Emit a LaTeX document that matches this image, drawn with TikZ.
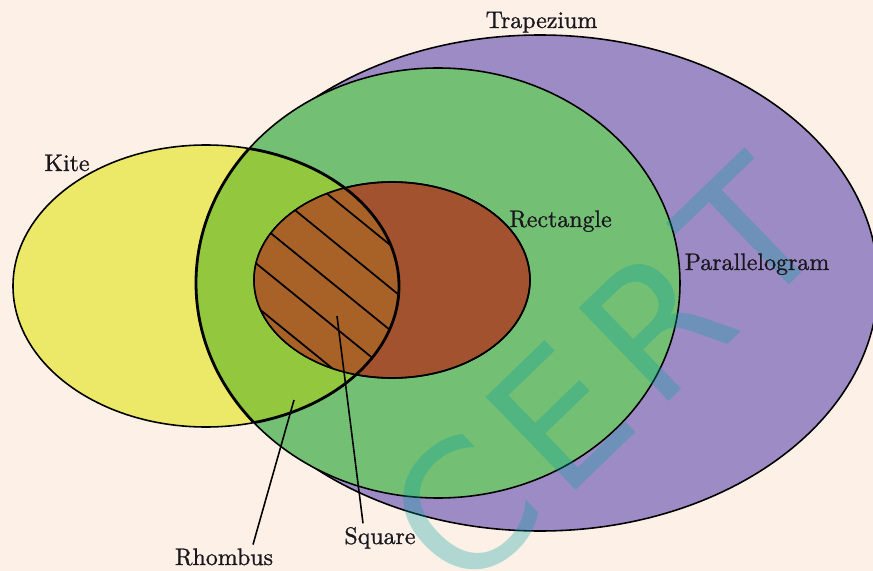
\documentclass[tikz,border=0pt]{standalone}
\usepackage{fontspec}
\usepackage{tikz}
\usetikzlibrary{positioning, calc}
\newfontfamily\wmfont{DejaVu Sans}
\newfontfamily\setfont{lmroman10-regular.otf}[FakeBold=1]
\definecolor{VennCream}{RGB}{253, 240, 231}
\definecolor{VennPurple}{RGB}{157, 139, 197}
\definecolor{VennGreen}{RGB}{115, 191, 116}
\definecolor{VennYellow}{RGB}{236, 232, 104}
\definecolor{VennLime}{RGB}{146, 199, 62}
\definecolor{VennBrown}{RGB}{163, 82, 48}
\definecolor{VennOchre}{RGB}{168, 98, 40}
\definecolor{VennMark}{RGB}{0, 160, 160}
\definecolor{VennInk}{RGB}{26, 24, 30}
% the five sets, in pixel units
\newcommand{\trapset}{(540,283) ellipse [x radius=338, y radius=248]}
\newcommand{\paraset}{(438,283) ellipse [x radius=242, y radius=215]}
\newcommand{\kiteset}{(206,286) ellipse [x radius=193, y radius=141]}
\newcommand{\rectset}{(392,280) ellipse [x radius=138, y radius=98]}

\begin{document}
\begin{tikzpicture}[
    x=0.02cm, y=-0.02cm,
    every node/.style={font=\setfont\fontsize{13.6}{16}\selectfont, text=VennInk, inner sep=2pt},
    setname/.style={anchor=base},
    outline/.style={draw=black, line width=0.9pt},
    lens/.style={draw=black, line width=1.6pt},
    hatch/.style={draw=black, line width=1pt},
    leader/.style={draw=black, line width=0.9pt},
    wmark/.style={font=\wmfont\fontsize{101}{101}\selectfont, text=VennMark, text opacity=0.3, inner sep=0pt}
  ]
    \useasboundingbox (0,0) rectangle (873,571);
    \clip (0,0) rectangle (873,571);
    \fill[VennCream] (0,0) rectangle (873,571);

    % Outer sets
    \filldraw[outline, fill=VennPurple] \trapset;
    \filldraw[outline, fill=VennGreen] \paraset;
    \filldraw[outline, fill=VennYellow] \kiteset;

    % Rhombus = kite and parallelogram
    \begin{scope}
      \clip \paraset;
      \fill[VennLime] \kiteset;
      \draw[lens] \kiteset;
    \end{scope}
    \begin{scope}
      \clip \kiteset;
      \draw[lens] \paraset;
    \end{scope}

    % Rectangle and square
    \filldraw[outline, fill=VennBrown] \rectset;
    \begin{scope}
      \clip \rectset;
      \fill[VennOchre] \kiteset;
      \begin{scope}
        \clip \kiteset;
        \draw[hatch] (229,114) -- (501,335);
        \draw[hatch] (209,140) -- (480,361);
        \draw[hatch] (188,166) -- (459,386);
        \draw[hatch] (167,191) -- (439,412);
        \draw[hatch] (146,217) -- (418,438);
      \end{scope}
      \draw[lens] \kiteset;
    \end{scope}
    \draw[outline] \rectset;

    % Watermark
    \node[wmark, rotate=44] (mark) at (604,374) {C\hspace{.09em}E\hspace{.09em}R\hspace{.09em}T};

    % Set names
    \node[setname] (trap) at (541.5,28) {Trapezium};
    \node[setname] (kite) at (67,171) {Kite};
    \node[setname] (rect) at (560.5,227) {Rectangle};
    \node[setname] (para) at (757,270) {Parallelogram};
    \node[setname] (rhom) at (224,565) {Rhombus};
    \node[setname] (sq) at (380,544) {Square};

    % Leaders
    \coordinate (rhomTip) at (294,400);
    \coordinate (sqTip) at (337,316);
    \draw[leader] ($(rhom.north)+(29,0)$) -- (rhomTip);
    \draw[leader] ($(sq.north)+(-17,0)$) -- (sqTip);
  \end{tikzpicture}
\end{document}
